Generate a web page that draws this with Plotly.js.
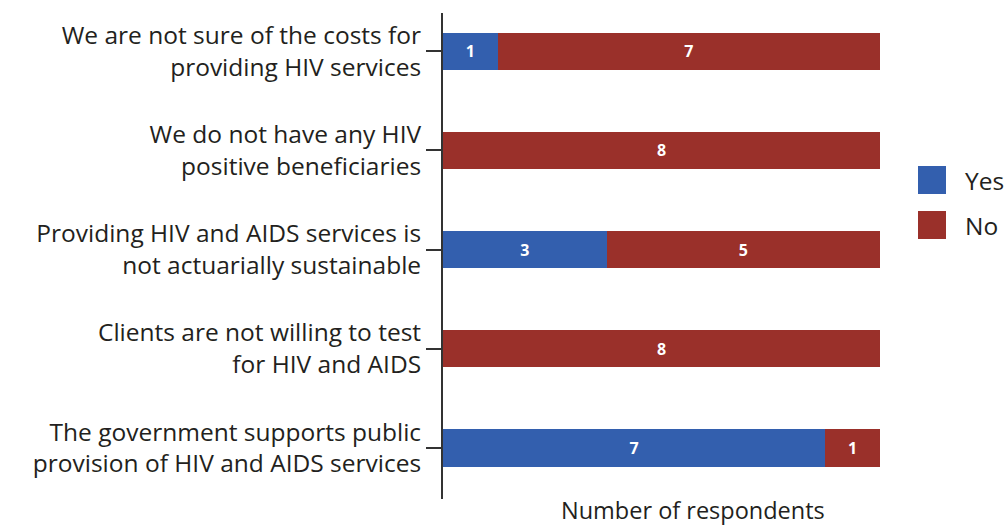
<!DOCTYPE html>
<html>
<head>
<meta charset="utf-8">
<script src="https://cdn.plot.ly/plotly-3.0.1.min.js"></script>
<style>html,body{margin:0;padding:0;background:#fff;}#chart{width:1004px;height:527px;}</style>
</head>
<body>
<div id="chart"></div>
<script>
const categories = [
  "We are not sure of the costs for<br>providing HIV services",
  "We do not have any HIV<br>positive beneficiaries",
  "Providing HIV and AIDS services is<br>not actuarially sustainable",
  "Clients are not willing to test<br>for HIV and AIDS",
  "The government supports public<br>provision of HIV and AIDS services"
];
const seriesNames = ["Yes", "No"];
const yesValues = [1, 0, 3, 0, 7];
const noValues = [7, 8, 5, 8, 1];
const seriesColors = ["#335fae", "#9a302a"];
const xTitle = "Number of respondents";

const FONT = "'Open Sans', Lato, sans-serif";

function barTrace(name, vals, color) {
  return {
    type: "bar", orientation: "h", name: name,
    y: categories, x: vals,
    marker: {color: color},
    width: 0.373,
    text: vals.map(v => v > 0 ? String(v) : ""),
    texttemplate: "%{text}",
    textposition: "inside", insidetextanchor: "middle",
    textfont: {color: "#ffffff", size: 16, family: FONT, weight: "bold"},
    hoverinfo: "skip",
    showlegend: false
  };
}

const data = [
  barTrace(seriesNames[0], yesValues, seriesColors[0]),
  barTrace(seriesNames[1], noValues, seriesColors[1])
];

// manual legend (large squares)
const legendShapes = [];
const legendAnn = [];
const lx0 = (918 - 443) / 437, lx1 = (946 - 443) / 437;
const legendTops = [166, 211];
seriesNames.forEach((n, i) => {
  const top = legendTops[i], bot = top + 28;
  legendShapes.push({type: "rect", xref: "paper", yref: "paper",
    x0: lx0, x1: lx1, y0: (499 - bot) / 486, y1: (499 - top) / 486,
    fillcolor: seriesColors[i], line: {width: 0}});
  legendAnn.push({xref: "paper", yref: "paper", x: (963 - 443) / 437, y: (499 - (top + 14)) / 486,
    xanchor: "left", yanchor: "middle", text: n, showarrow: false,
    font: {family: FONT, size: 24.5, color: "#231f20"}});
});

legendAnn.push({xref: "paper", yref: "paper", x: (693 - 443) / 437, y: (499 - 510) / 486,
  xanchor: "center", yanchor: "middle", text: xTitle, showarrow: false,
  font: {family: FONT, size: 23.5, color: "#231f20"}});

const layout = {
  width: 1004, height: 527,
  margin: {l: 443, r: 124, t: 13, b: 28, pad: 0},
  paper_bgcolor: "#ffffff", plot_bgcolor: "#ffffff",
  barmode: "stack",
  showlegend: false,
  font: {family: FONT, size: 24.5, color: "#231f20"},
  xaxis: {range: [0, 8], showgrid: false, zeroline: false, showline: false,
    showticklabels: false, ticks: "", fixedrange: true},
  yaxis: {type: "category", categoryorder: "array", categoryarray: categories,
    range: [4.514, -0.383], showgrid: false, zeroline: false,
    showline: true, linecolor: "#333333", linewidth: 2,
    ticks: "outside", ticklen: 15, tickwidth: 2, tickcolor: "#333333",
    tickfont: {family: FONT, size: 24.5, color: "#231f20"}, ticklabelstandoff: 0},
  shapes: legendShapes,
  annotations: legendAnn
};

Plotly.newPlot("chart", data, layout, {displayModeBar: false, staticPlot: true});
</script>
</body>
</html>
